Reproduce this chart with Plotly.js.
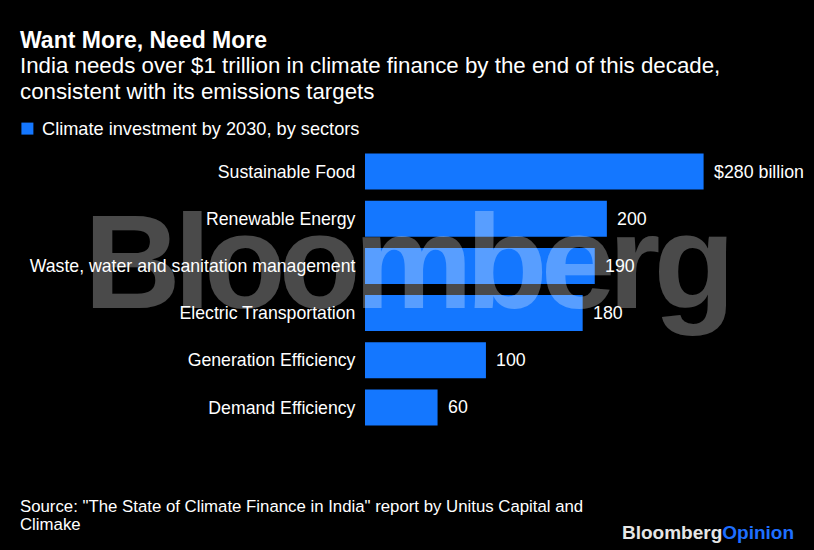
<!DOCTYPE html>
<html>
<head>
<meta charset="utf-8">
<script src="https://cdn.plot.ly/plotly-3.0.1.min.js"></script>
<style>
html,body{margin:0;padding:0;background:#000;}
#chart{width:814px;height:550px;}
</style>
</head>
<body>
<div id="chart"></div>
<script>
// ---- data ----
var categories = ["Sustainable Food", "Renewable Energy", "Waste, water and sanitation management", "Electric Transportation", "Generation Efficiency", "Demand Efficiency"];
var values = [280, 200, 190, 180, 100, 60];
var valueLabels = ["$280 billion", "200", "190", "180", "100", "60"];
var seriesName = "Climate investment by 2030, by sectors";
var titleText = "Want More, Need More";
var subtitleLines = ["India needs over $1 trillion in climate finance by the end of this decade,", "consistent with its emissions targets"];
var sourceLines = ["Source: \"The State of Climate Finance in India\" report by Unitus Capital and", "Climake"];

// ---- layout geometry ----
var W = 814, H = 550;
var L = 365, R = 25.5, T = 148.4, B = 118.6;
var pw = W - L - R, ph = H - T - B;
function px(x){ return (x - L) / pw; }
function py(y){ return (H - B - y) / ph; }

var FONT = "Liberation Sans, Arial, sans-serif";
var BLUE = "#1477ff";

var trace = {
  type: "bar",
  orientation: "h",
  x: values,
  y: categories,
  name: seriesName,
  marker: {color: BLUE},
  showlegend: false,
  hoverinfo: "skip"
};

function textAnn(text, x, y, size, opts){
  var a = {text: text, x: px(x), y: py(y), xref: "paper", yref: "paper",
    xanchor: "left", yanchor: "middle", showarrow: false,
    font: {size: size, color: "#ffffff", family: FONT}};
  if (opts) for (var k in opts) a[k] = opts[k];
  return a;
}

var annotations = [
  textAnn("<b>" + titleText + "</b>", 18, 40, 23),
  textAnn(subtitleLines[0], 18, 66, 22.3),
  textAnn(subtitleLines[1], 18, 92, 22.3),
  textAnn(seriesName, 40, 129, 18.2),
  textAnn(sourceLines[0], 18, 507, 16.8),
  textAnn(sourceLines[1], 18, 525, 16.8),
  textAnn("<b><span style='color:#e6e6e6'>Bloomberg</span><span style='color:#1f6fff'>Opinion</span></b>", 797, 533, 19, {xanchor: "right"}),
  textAnn("<b><span style='letter-spacing:-7px'>Bloomberg</span></b>", 406, 262, 134, {xanchor: "center", font: {size: 134, color: "rgba(255,255,255,0.29)", family: FONT}})
];

// value labels placed through the axes
categories.forEach(function(c, i){
  annotations.push({
    text: valueLabels[i], x: values[i], y: c, xref: "x", yref: "y",
    xanchor: "left", yanchor: "middle", xshift: 8, showarrow: false,
    font: {size: 17.8, color: "#ffffff", family: FONT}
  });
});

var layout = {
  width: W, height: H,
  paper_bgcolor: "#000000",
  plot_bgcolor: "#000000",
  margin: {l: L, r: R, t: T, b: B, pad: 0},
  font: {family: FONT, color: "#ffffff", size: 17},
  bargap: 0.237,
  showlegend: false,
  xaxis: {
    range: [0, pw / (339 / 280)],
    visible: false,
    fixedrange: true
  },
  yaxis: {
    autorange: "reversed",
    showgrid: false, zeroline: false, showline: false,
    ticks: "outside", ticklen: 5, tickcolor: "rgba(0,0,0,0)",
    tickfont: {size: 17.7, color: "#ffffff", family: FONT},
    fixedrange: true
  },
  shapes: [
    {type: "rect", xref: "paper", yref: "paper", x0: px(21), x1: px(33), y0: py(135), y1: py(123),
     fillcolor: BLUE, line: {width: 0}}
  ],
  annotations: annotations
};

Plotly.newPlot("chart", [trace], layout, {displayModeBar: false, staticPlot: true});
</script>
</body>
</html>
